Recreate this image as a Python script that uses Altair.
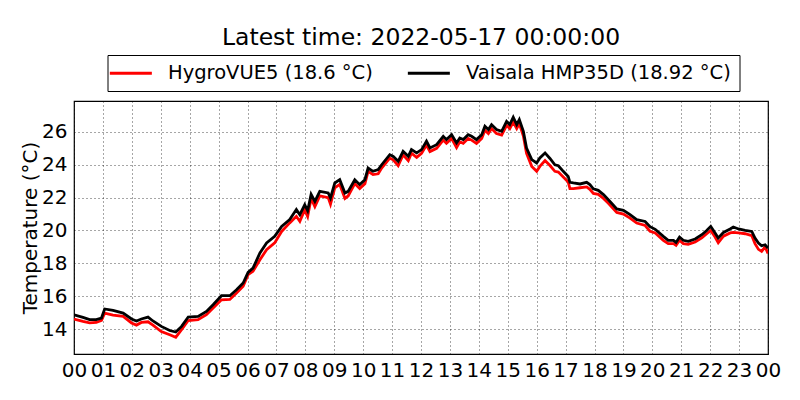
import altair as alt
import pandas as pd

HOURS = [0.0, 0.31, 0.54, 0.77, 0.95, 1.06, 1.35, 1.7, 1.99, 2.16, 2.33, 2.56, 2.73, 3.02, 3.31, 3.52, 3.72, 3.95,
         4.29, 4.58, 4.81, 5.1, 5.39, 5.62, 5.85, 6.02, 6.19, 6.43, 6.66, 6.94, 7.18, 7.46, 7.69, 7.81, 7.98,
         8.08, 8.2, 8.33, 8.5, 8.79, 8.87, 9.02, 9.19, 9.37, 9.48, 9.71, 9.88, 10.06, 10.17, 10.34, 10.52, 10.64,
         10.92, 11.04, 11.21, 11.38, 11.56, 11.67, 11.85, 12.02, 12.19, 12.31, 12.54, 12.77, 12.88, 13.06, 13.23,
         13.34, 13.46, 13.63, 13.75, 13.92, 14.1, 14.21, 14.33, 14.44, 14.61, 14.79, 14.96, 15.07, 15.19, 15.31,
         15.4, 15.54, 15.65, 15.83, 16.0, 16.11, 16.29, 16.46, 16.63, 16.75, 16.92, 17.09, 17.15, 17.27, 17.5,
         17.73, 17.84, 17.96, 18.13, 18.31, 18.48, 18.77, 19.0, 19.23, 19.46, 19.75, 19.92, 20.1, 20.38, 20.55,
         20.73, 20.82, 20.94, 21.07, 21.24, 21.48, 21.71, 21.88, 22.02, 22.17, 22.28, 22.46, 22.69, 22.8, 22.98,
         23.21, 23.44, 23.55, 23.67, 23.78, 23.9, 24.0]

VAISALA = [14.87, 14.71, 14.57, 14.57, 14.67, 15.22, 15.13, 14.97, 14.61, 14.49, 14.61, 14.73, 14.49, 14.16, 13.91,
           13.82, 14.16, 14.73, 14.77, 15.07, 15.48, 16.03, 16.03, 16.39, 16.8, 17.45, 17.71, 18.63, 19.24, 19.64,
           20.25, 20.66, 21.27, 20.96, 21.57, 21.2, 22.2, 21.77, 22.38, 22.28, 21.98, 22.89, 23.09, 22.28, 22.38,
           23.09, 22.79, 23.09, 23.8, 23.6, 23.7, 24.0, 24.61, 24.51, 24.21, 24.82, 24.51, 24.92, 24.72, 24.92,
           25.43, 25.02, 25.22, 25.73, 25.53, 25.83, 25.33, 25.63, 25.53, 25.83, 25.73, 25.53, 25.83, 26.34, 26.14,
           26.44, 26.14, 26.03, 26.64, 26.44, 26.89, 26.44, 26.75, 26.03, 25.02, 24.31, 24.11, 24.41, 24.72, 24.38,
           24.0, 23.94, 23.6, 23.29, 22.93, 22.89, 22.83, 22.93, 22.79, 22.53, 22.44, 22.18, 21.87, 21.31, 21.22,
           20.96, 20.66, 20.55, 20.23, 20.07, 19.64, 19.4, 19.4, 19.27, 19.6, 19.4, 19.34, 19.48, 19.74, 20.0, 20.25,
           19.85, 19.54, 19.88, 20.09, 20.21, 20.09, 20.0, 19.94, 19.54, 19.24, 19.07, 19.13, 18.92]

HYGROVUE = [14.6, 14.46, 14.37, 14.4, 14.52, 14.97, 14.85, 14.77, 14.37, 14.24, 14.4, 14.44, 14.24, 13.85, 13.65,
            13.5, 13.96, 14.52, 14.57, 14.87, 15.28, 15.78, 15.8, 16.19, 16.6, 17.31, 17.51, 18.22, 18.83, 19.24,
            19.94, 20.46, 20.86, 20.55, 21.27, 20.85, 21.95, 21.45, 22.1, 22.0, 21.6, 22.6, 22.8, 21.95, 22.1,
            22.85, 22.55, 22.85, 23.6, 23.4, 23.45, 23.8, 24.4, 24.3, 23.95, 24.6, 24.25, 24.7, 24.45, 24.7,
            25.2, 24.8, 25.0, 25.5, 25.3, 25.6, 25.05, 25.4, 25.3, 25.6, 25.5, 25.3, 25.6, 26.1, 25.9,
            26.2, 25.9, 25.8, 26.4, 26.2, 26.6, 26.2, 26.5, 25.75, 24.7, 23.9, 23.6, 23.9, 24.25, 23.95,
            23.6, 23.55, 23.25, 22.95, 22.55, 22.55, 22.6, 22.65, 22.5, 22.25, 22.2, 21.95, 21.65, 21.1, 21.0,
            20.75, 20.45, 20.3, 19.95, 19.85, 19.4, 19.2, 19.2, 19.1, 19.4, 19.2, 19.15, 19.3, 19.55, 19.8, 20.0,
            19.6, 19.25, 19.65, 19.85, 19.88, 19.85, 19.8, 19.68, 19.2, 18.85, 18.73, 19.0, 18.6]

SERIES = ["HygroVUE5 (18.6 °C)", "Vaisala HMP35D (18.92 °C)"]
COLORS = ["#ff0000", "#000000"]
TITLE = "Latest time: 2022-05-17 00:00:00"
Y_TICKS = [14, 16, 18, 20, 22, 24, 26]
X_TICKS = list(range(0, 25))

df = pd.concat([
    pd.DataFrame({"hour": HOURS, "temp": HYGROVUE, "series": SERIES[0]}),
    pd.DataFrame({"hour": HOURS, "temp": VAISALA, "series": SERIES[1]}),
])

FONT = "DejaVu Sans"

x_enc = alt.X("hour:Q",
              scale=alt.Scale(domain=[0, 24], nice=False),
              axis=alt.Axis(values=X_TICKS, title=None,
                            labelExpr="(datum.value % 24 < 10 ? '0' : '') + (datum.value % 24)",
                            labelFontSize=20, labelFont=FONT, labelColor="black",
                            labelPadding=6, ticks=False, tickSize=0, domain=False,
                            grid=True, gridColor="black", gridDash=[1, 3], gridWidth=0.7,
                            gridOpacity=1, labelFlush=False, labelOverlap=False))
y_enc = alt.Y("temp:Q",
              scale=alt.Scale(domain=[12.48, 27.88], nice=False, zero=False),
              axis=alt.Axis(values=Y_TICKS, title="Temperature (°C)",
                            labelFontSize=20, labelFont=FONT, labelColor="black",
                            labelPadding=7, ticks=False, tickSize=0, domain=False,
                            grid=True, gridColor="black", gridDash=[1, 3], gridWidth=0.7,
                            gridOpacity=1, labelOverlap=False, labelFlush=False,
                            titleFont=FONT, titleFontSize=20, titleFontWeight="normal",
                            titleColor="black", titleX=-44, titleY=126.5, titleAngle=270,
                            titleAlign="center", titleBaseline="middle"))
color_enc = alt.Color("series:N",
                      scale=alt.Scale(domain=SERIES, range=COLORS),
                      legend=alt.Legend(orient="none", legendX=33.5, legendY=-46,
                                        direction="horizontal", title=None,
                                        symbolType="M-2.2,0H3.8", symbolSize=196,
                                        symbolStrokeWidth=3, labelFont=FONT,
                                        labelFontSize=19.5, labelColor="black",
                                        labelOffset=33, columnPadding=28,
                                        padding=8, strokeColor="black",
                                        fillColor="white", cornerRadius=0,
                                        labelLimit=400))

base = alt.Chart(df).mark_line(strokeWidth=2.8, clip=True).encode(
    x=x_enc, y=y_enc, color=color_enc)

red = base.transform_filter(alt.datum.series == SERIES[0])
black = base.transform_filter(alt.datum.series == SERIES[1])

chart = alt.layer(red, black).properties(
    width=694, height=253,
    title=alt.TitleParams(text=TITLE, font=FONT, fontSize=23.5, fontWeight="normal",
                          color="black", anchor="middle", frame="group", offset=5),
    padding={"left": 66, "top": 93, "right": 16, "bottom": 38},
    autosize=alt.AutoSizeParams(type="none"),
).configure_view(stroke="black", strokeWidth=1.2)

chart.save("out.html", embed_options={"renderer": "svg", "actions": False})
